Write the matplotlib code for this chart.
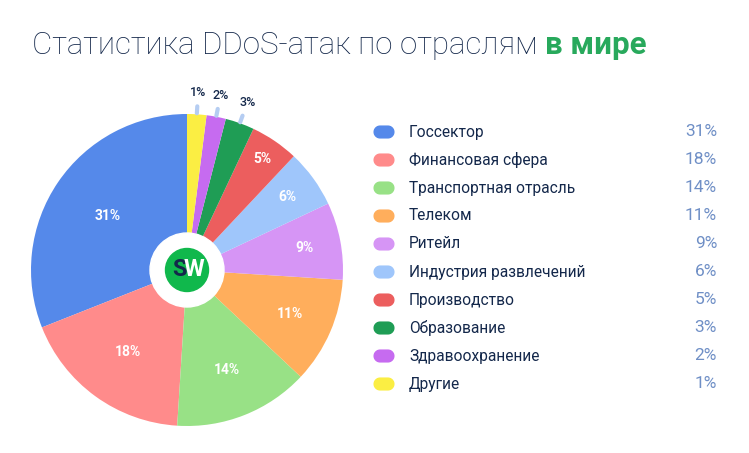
"""DDoS attack shares by industry, donut-logo pie with a side legend."""

import matplotlib

matplotlib.use("Agg")
import matplotlib.pyplot as plt
import numpy as np
from matplotlib.patches import Circle, FancyBboxPatch

plt.rcParams["font.family"] = ["Roboto", "DejaVu Sans"]

categories = [
    "Госсектор",
    "Финансовая сфера",
    "Транспортная отрасль",
    "Телеком",
    "Ритейл",
    "Индустрия развлечений",
    "Производство",
    "Образование",
    "Здравоохранение",
    "Другие",
]
shares = [31, 18, 14, 11, 9, 6, 5, 3, 2, 1]
# the slices in the picture are not quite to scale with their labels
drawn_shares = [31, 18, 14, 11, 8, 6, 5, 3, 2, 2]
colors = [
    "#5589ea",
    "#ff8b8b",
    "#98e186",
    "#ffae5c",
    "#d695f5",
    "#9fc6fb",
    "#ec5e5e",
    "#1f9d55",
    "#c66bf0",
    "#fbee43",
]

NAVY = "#14284b"
VALUE_BLUE = "#6f8fc6"
W, H = 749, 453
CENTER = (187, H - 270)
RADIUS = 156
label_radii = [96, 101, 108, 112, 120, 124, 134]

fig = plt.figure(figsize=(W / 100, H / 100), dpi=100)
ax = fig.add_axes([0, 0, 1, 1])

wedges, _ = ax.pie(
    drawn_shares,
    colors=colors,
    startangle=90,
    counterclock=True,
    center=CENTER,
    radius=RADIUS,
)
ax.set_xlim(0, W)
ax.set_ylim(0, H)
ax.set_aspect("equal")
ax.axis("off")

# percent labels: white inside the big slices, navy with a tick outside the small ones
for index, (wedge, share) in enumerate(zip(wedges, shares)):
    mid = np.deg2rad((wedge.theta1 + wedge.theta2) / 2)
    direction = np.array([np.cos(mid), np.sin(mid)])
    if index < len(label_radii):
        x, y = CENTER + direction * label_radii[index]
        ax.text(x, y, f"{share}%", color="white", fontsize=10, fontweight="bold",
                ha="center", va="center")
    else:
        start = CENTER + direction * (RADIUS + 1)
        end = CENTER + direction * (RADIUS + 8)
        ax.plot([start[0], end[0]], [start[1], end[1]], color="#b5cdf2", lw=3,
                solid_capstyle="round")
        x, y = CENTER + direction * (RADIUS + 22)
        ax.text(x, y, f"{share}%", color=NAVY, fontsize=9, fontweight="medium",
                ha="center", va="center")

ax.add_patch(Circle(CENTER, 37, color="white", zorder=5))
ax.add_patch(Circle(CENTER, 21.5, color="#10b84c", zorder=6))
ax.text(CENTER[0] - 7.5, CENTER[1], "S", color=NAVY, fontsize=17, fontweight="bold",
        ha="center", va="center", zorder=7)
ax.text(CENTER[0] + 6.5, CENTER[1], "W", color="white", fontsize=17, fontweight="bold",
        ha="center", va="center", zorder=7)

# legend rows
for row, (name, share, color) in enumerate(zip(categories, shares, colors)):
    y = H - (132 + row * 28)
    ax.add_patch(FancyBboxPatch((379, y - 1), 10, 2, boxstyle="round,pad=0,rounding_size=1",
                                mutation_aspect=1, linewidth=8, edgecolor=color,
                                facecolor=color, joinstyle="round"))
    ax.text(409, y, name, color=NAVY, fontsize=11.2, ha="left", va="center")
    ax.text(717, y, f"{share}%", color=VALUE_BLUE, fontsize=12.5, ha="right", va="center")

title = ax.text(32, H - 45, "Статистика DDoS-атак по отраслям ", color=NAVY, fontsize=22.5,
                fontweight="light", ha="left", va="center")
fig.canvas.draw()
bbox = title.get_window_extent()
ax.text(bbox.x1 * W / fig.bbox.width, H - 45, "в мире", color="#28a95c", fontsize=22.5,
        fontweight="bold", ha="left", va="center")

fig.savefig("out.png", dpi=100, facecolor="white")
plt.close(fig)
